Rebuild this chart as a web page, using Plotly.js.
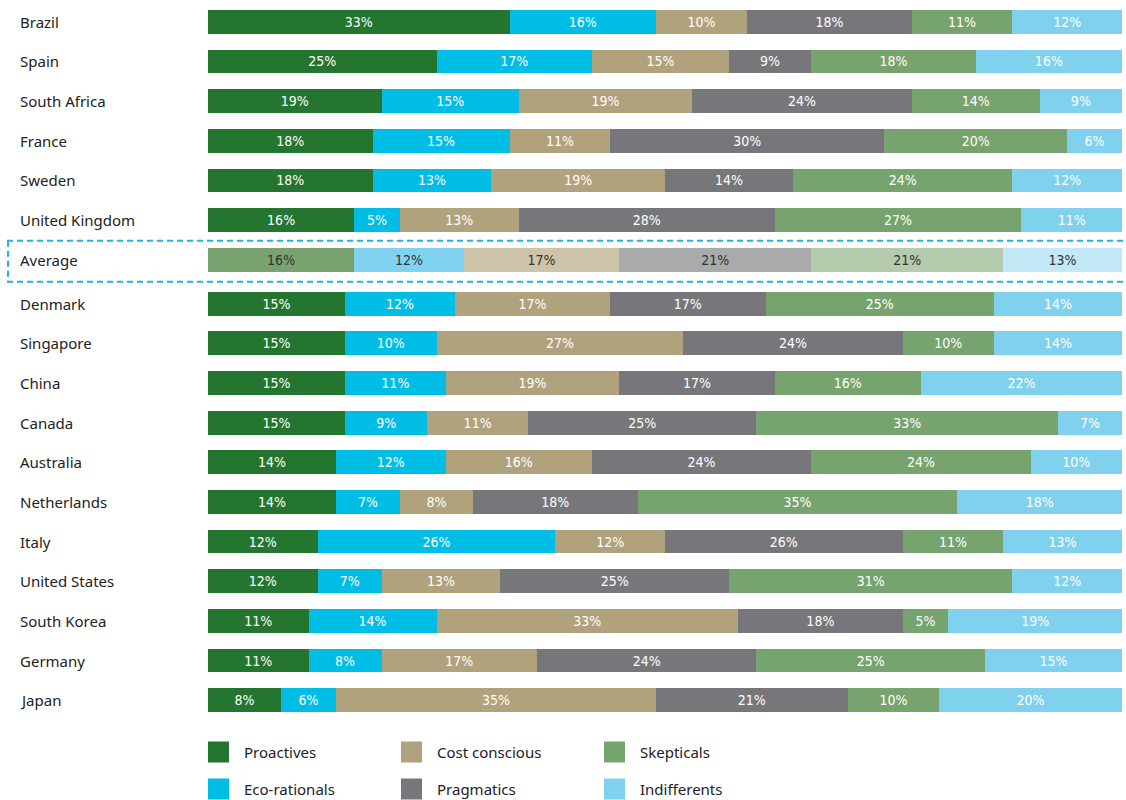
<!DOCTYPE html>
<html>
<head>
<meta charset="utf-8">
<script src="https://cdn.plot.ly/plotly-3.0.1.min.js"></script>
<style>html,body{margin:0;padding:0;background:#fff;}#chart{width:1126px;height:800px;}</style>
</head>
<body>
<div id="chart"></div>
<script>
// ---- data ----
const countries = ["Brazil","Spain","South Africa","France","Sweden","United Kingdom","Average","Denmark","Singapore","China","Canada","Australia","Netherlands","Italy","United States","South Korea","Germany","Japan"];
const proactives    = [33,25,19,18,18,16,16,15,15,15,15,14,14,12,12,11,11,8];
const ecoRationals  = [16,17,15,15,13,5,12,12,10,11,9,12,7,26,7,14,8,6];
const costConscious = [10,15,19,11,19,13,17,17,27,19,11,16,8,12,13,33,17,35];
const pragmatics    = [18,9,24,30,14,28,21,17,24,17,25,24,18,26,25,18,24,21];
const skepticals    = [11,18,14,20,24,27,21,25,10,16,33,24,35,11,31,5,25,10];
const indifferents  = [12,16,9,6,12,11,13,14,14,22,7,10,18,13,12,19,15,20];
const seriesNames = ["Proactives","Eco-rationals","Cost conscious","Pragmatics","Skepticals","Indifferents"];
const seriesValues = [proactives, ecoRationals, costConscious, pragmatics, skepticals, indifferents];

// ---- styles ----
const colors = ["#24752f","#00bde6","#afa27c","#77777b","#76a36e","#7fd1ee"];
const avgColors = ["#78a370","#80d2ef","#cdc4a9","#a8aaac","#b4cbae","#c3e8f6"];
const avgIndex = countries.indexOf("Average");
const gapAfterAvg = 0.11;
const yPos = countries.map((c,i)=> i + (i>avgIndex ? gapAfterAvg : 0));
const barFont = "'DejaVu Sans Condensed','Liberation Sans Narrow','Arial Narrow',sans-serif";
const labelFont = "'Noto Sans','DejaVu Sans',sans-serif";

const traces = seriesValues.map((vals, s) => ({
  type: 'bar',
  orientation: 'h',
  name: seriesNames[s],
  x: vals,
  y: yPos,
  width: 0.6,
  marker: {color: vals.map((v,i)=> i===avgIndex ? avgColors[s] : colors[s]), line: {width: 0}},
  text: vals.map(v => v + '%'),
  textposition: 'inside',
  insidetextanchor: 'middle',
  textangle: 0,
  constraintext: 'none',
  textfont: {family: barFont, size: 14, color: vals.map((v,i)=> i===avgIndex ? '#333333' : '#ffffff')},
  hoverinfo: 'name+x',
  showlegend: false
}));

const annotations = countries.map((c,i)=>({
  xref: 'paper', yref: 'y', x: 0, y: yPos[i], xshift: -190, xanchor: 'left', yanchor: 'middle',
  text: c, showarrow: false, font: {family: labelFont, size: 15, color: '#222222'}
}));

// manual legend: 3 columns x 2 rows
const legendOrder = [[0,2,4],[1,3,5]];
const colPx = [208, 401, 604];
const rowPx = [752, 789];
const W = 1126, H = 800, ml = 208, mr = 4, mt = 2, mb = 80;
const pw = W - ml - mr, ph = H - mt - mb;
const px2x = p => (p - ml) / pw;
const py2y = p => 1 - (p - mt) / ph;
const shapes = [];
legendOrder.forEach((row, r) => row.forEach((s, c) => {
  shapes.push({type:'rect', xref:'paper', yref:'paper', x0: px2x(colPx[c]), x1: px2x(colPx[c]+21), y0: py2y(rowPx[r]-10.5), y1: py2y(rowPx[r]+10.5), fillcolor: colors[s], line:{width:0}});
  annotations.push({xref:'paper', yref:'paper', x: px2x(colPx[c]+34), y: py2y(rowPx[r]), xanchor:'left', yanchor:'middle', text: seriesNames[s], showarrow:false, font:{family: labelFont, size: 15, color:'#222222'}});
}));

// dashed box around the Average row
const unit = ph / 18.11;
const boxTop = yPos[avgIndex] - 19/unit, boxBot = yPos[avgIndex] + 22/unit;
const dashLine = {color:'#1fb5de', width:2, dash:'6px,4px'};
shapes.push({type:'line', xref:'paper', yref:'y', x0: px2x(7), x1: px2x(1126), y0: boxTop, y1: boxTop, line: dashLine});
shapes.push({type:'line', xref:'paper', yref:'y', x0: px2x(7), x1: px2x(1126), y0: boxBot, y1: boxBot, line: dashLine});
shapes.push({type:'line', xref:'paper', yref:'y', x0: px2x(8), x1: px2x(8), y0: boxTop, y1: boxBot, line: dashLine});

const layout = {
  width: W, height: H,
  margin: {l: ml, r: mr, t: mt, b: mb},
  barmode: 'stack',
  bargap: 0,
  paper_bgcolor: '#ffffff', plot_bgcolor: '#ffffff',
  xaxis: {range: [0, 100], visible: false, fixedrange: true},
  yaxis: {range: [17.61, -0.5], visible: false, fixedrange: true},
  annotations: annotations,
  shapes: shapes,
  showlegend: false
};

Plotly.newPlot('chart', traces, layout, {displayModeBar: false, staticPlot: true});
</script>
</body>
</html>
